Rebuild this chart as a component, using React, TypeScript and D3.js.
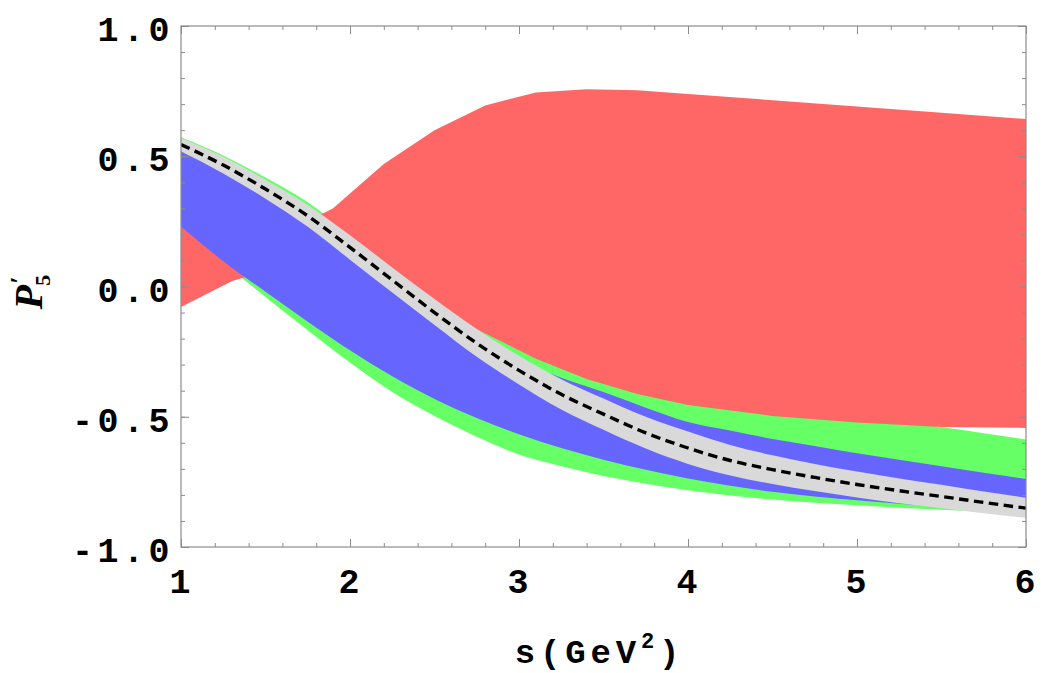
import * as d3 from 'd3'
import { useEffect, useRef } from 'react'

// s grid (GeV^2) used by the smooth bands
const sGrid = [1, 1.25, 1.5, 1.75, 2, 2.25, 2.5, 2.75, 3, 3.25, 3.5, 3.75, 4, 4.25, 4.5, 4.75, 5, 5.25, 5.5, 5.75, 6]

const greenUpper = [0.573, 0.503, 0.418, 0.323, 0.2, 0.076, -0.042, -0.14, -0.22, -0.27, -0.31, -0.35, -0.39, -0.42, -0.445, -0.47, -0.495, -0.517, -0.539, -0.563, -0.587]
const greenLower = [0.22, 0.09, -0.04, -0.168, -0.292, -0.405, -0.497, -0.577, -0.645, -0.69, -0.727, -0.757, -0.782, -0.802, -0.818, -0.83, -0.84, -0.849, -0.857, -0.864, -0.87]

const blueUpper = [0.55, 0.48, 0.39, 0.29, 0.17, 0.05, -0.07, -0.185, -0.285, -0.35, -0.405, -0.465, -0.52, -0.553, -0.585, -0.612, -0.64, -0.665, -0.69, -0.715, -0.739]
const blueLower = [0.23, 0.097, -0.02, -0.135, -0.245, -0.345, -0.432, -0.505, -0.567, -0.62, -0.665, -0.703, -0.737, -0.765, -0.788, -0.806, -0.821, -0.834, -0.846, -0.856, -0.865]

const grayUpper = [0.57, 0.498, 0.41, 0.313, 0.197, 0.073, -0.048, -0.163, -0.266, -0.356, -0.43, -0.5, -0.557, -0.608, -0.648, -0.681, -0.71, -0.737, -0.761, -0.787, -0.811]
const grayLower = [0.518, 0.434, 0.337, 0.229, 0.103, -0.023, -0.148, -0.27, -0.376, -0.472, -0.55, -0.622, -0.681, -0.726, -0.758, -0.785, -0.81, -0.832, -0.851, -0.87, -0.888]

const central = [0.545, 0.466, 0.374, 0.271, 0.15, 0.025, -0.1, -0.218, -0.322, -0.414, -0.49, -0.562, -0.62, -0.668, -0.703, -0.733, -0.76, -0.784, -0.806, -0.829, -0.851]

// red band is sampled on its own grid (visible kinks)
const redS = [1, 1.3, 1.6, 1.9, 2.2, 2.5, 2.8, 3.1, 3.4, 3.7, 4, 4.5, 5, 5.5, 6]
const redUpper = [0.25, 0.2, 0.2, 0.3, 0.47, 0.6, 0.695, 0.745, 0.757, 0.753, 0.739, 0.715, 0.691, 0.667, 0.643]
const redLower = [-0.079, 0.02, 0.08, 0.07, 0, -0.085, -0.18, -0.277, -0.355, -0.413, -0.455, -0.497, -0.522, -0.539, -0.543]

const xTicks = [1, 2, 3, 4, 5, 6]
const xTickLabels = ['1', '2', '3', '4', '5', '6']
const yTicks = [-1, -0.5, 0, 0.5, 1]
const yTickLabels = ['-1.0', '-0.5', '0.0', '0.5', '1.0']

const FONT = '"Liberation Mono", "Courier New", monospace'

export default function App() {
  const ref = useRef<SVGSVGElement>(null)

  useEffect(() => {
    const margin = { top: 26, right: 16, bottom: 126, left: 181 }
    const width = 1042 - margin.left - margin.right
    const height = 673 - margin.top - margin.bottom

    const root = d3.select(ref.current)
    root.selectAll('*').remove()
    root.attr('width', 1042).attr('height', 673)

    const svg = root.append('g').attr('transform', `translate(${margin.left},${margin.top})`)

    const x = d3.scaleLinear().domain([1, 6]).range([0, width])
    const y = d3.scaleLinear().domain([-1, 1]).range([height, 0])

    root
      .append('defs')
      .append('clipPath')
      .attr('id', 'plot-clip')
      .append('rect')
      .attr('width', width)
      .attr('height', height)

    const plot = svg.append('g').attr('clip-path', 'url(#plot-clip)')

    const band = (upper: number[], lower: number[], sVals: number[], curve: d3.CurveFactory) =>
      d3
        .area<number>()
        .x((i) => x(sVals[i]))
        .y0((i) => y(lower[i]))
        .y1((i) => y(upper[i]))
        .curve(curve)(d3.range(sVals.length))

    // draw order: green, red, blue, gray, central line
    plot.append('path').attr('d', band(greenUpper, greenLower, sGrid, d3.curveMonotoneX)).attr('fill', '#66ff66')
    plot.append('path').attr('d', band(redUpper, redLower, redS, d3.curveLinear)).attr('fill', '#ff6666')
    plot.append('path').attr('d', band(blueUpper, blueLower, sGrid, d3.curveMonotoneX)).attr('fill', '#6666ff')
    plot.append('path').attr('d', band(grayUpper, grayLower, sGrid, d3.curveMonotoneX)).attr('fill', '#d9d9d9')

    const line = d3
      .line<number>()
      .x((i) => x(sGrid[i]))
      .y((i) => y(central[i]))
      .curve(d3.curveMonotoneX)
    plot
      .append('path')
      .attr('d', line(d3.range(sGrid.length)))
      .attr('fill', 'none')
      .attr('stroke', '#000')
      .attr('stroke-width', 3.4)
      .attr('stroke-dasharray', '9.5,5.5')

    // frame with inward ticks on all four sides
    const xMinor = d3.range(1, 6.001, 0.2)
    const yMinor = d3.range(-1, 1.001, 0.1)
    const tickColor = '#8c8c8c'

    const axes: [d3.Axis<d3.NumberValue>, string][] = [
      [d3.axisBottom(x).tickValues(xTicks).tickSize(-8), `translate(0,${height})`],
      [d3.axisBottom(x).tickValues(xMinor).tickSize(-4), `translate(0,${height})`],
      [d3.axisTop(x).tickValues(xTicks).tickSize(-8), 'translate(0,0)'],
      [d3.axisTop(x).tickValues(xMinor).tickSize(-4), 'translate(0,0)'],
      [d3.axisLeft(y).tickValues(yTicks).tickSize(-8), 'translate(0,0)'],
      [d3.axisLeft(y).tickValues(yMinor).tickSize(-4), 'translate(0,0)'],
      [d3.axisRight(y).tickValues(yTicks).tickSize(-8), `translate(${width},0)`],
      [d3.axisRight(y).tickValues(yMinor).tickSize(-4), `translate(${width},0)`]
    ]
    axes.forEach(([axis, tr]) => {
      const g = svg
        .append('g')
        .attr('transform', tr)
        .call(axis.tickFormat(() => '').tickSizeOuter(0))
      g.selectAll('line').attr('stroke', tickColor).attr('stroke-width', 1)
      g.select('.domain').remove()
    })

    svg
      .append('rect')
      .attr('width', width)
      .attr('height', height)
      .attr('fill', 'none')
      .attr('stroke', tickColor)
      .attr('stroke-width', 1.2)

    // tick labels
    svg
      .selectAll('.ylab')
      .data(yTicks)
      .enter()
      .append('text')
      .attr('x', -7)
      .attr('y', (d) => y(d) + 15)
      .attr('text-anchor', 'end')
      .attr('font-family', FONT)
      .attr('font-weight', 'bold')
      .attr('font-size', 35)
      .attr('letter-spacing', 4.5)
      .text((d, i) => yTickLabels[i])

    svg
      .selectAll('.xlab')
      .data(xTicks)
      .enter()
      .append('text')
      .attr('x', (d) => x(d) - 1)
      .attr('y', height + 46)
      .attr('text-anchor', 'middle')
      .attr('font-family', FONT)
      .attr('font-weight', 'bold')
      .attr('font-size', 35)
      .text((d, i) => xTickLabels[i])

    // axis titles
    const xt = svg
      .append('text')
      .attr('x', width / 2 - 4)
      .attr('y', height + 116)
      .attr('text-anchor', 'middle')
      .attr('font-family', FONT)
      .attr('font-weight', 'bold')
      .attr('font-size', 34)
      .attr('letter-spacing', 4.8)
    xt.append('tspan').text('s(GeV')
    xt.append('tspan').attr('font-size', 22).attr('dy', -15).text('2')
    xt.append('tspan').attr('dy', 15).text(')')

    const yt = root
      .append('text')
      .attr('transform', 'translate(42,292) rotate(-90)')
      .attr('text-anchor', 'middle')
      .attr('font-family', '"Liberation Serif", "DejaVu Serif", serif')
      .attr('font-weight', 'bold')
      .attr('font-style', 'italic')
      .attr('font-size', 40)
    yt.append('tspan').text('P')
    yt.append('tspan').attr('font-size', 26).attr('dx', 1).attr('dy', -14).text('\u2032')
    yt.append('tspan').attr('font-size', 22).attr('font-style', 'normal').attr('dx', -9).attr('dy', 22).text('5')
  }, [])

  return <svg ref={ref} style={{ position: 'absolute', left: 0, top: 0, background: '#fff' }} />
}
